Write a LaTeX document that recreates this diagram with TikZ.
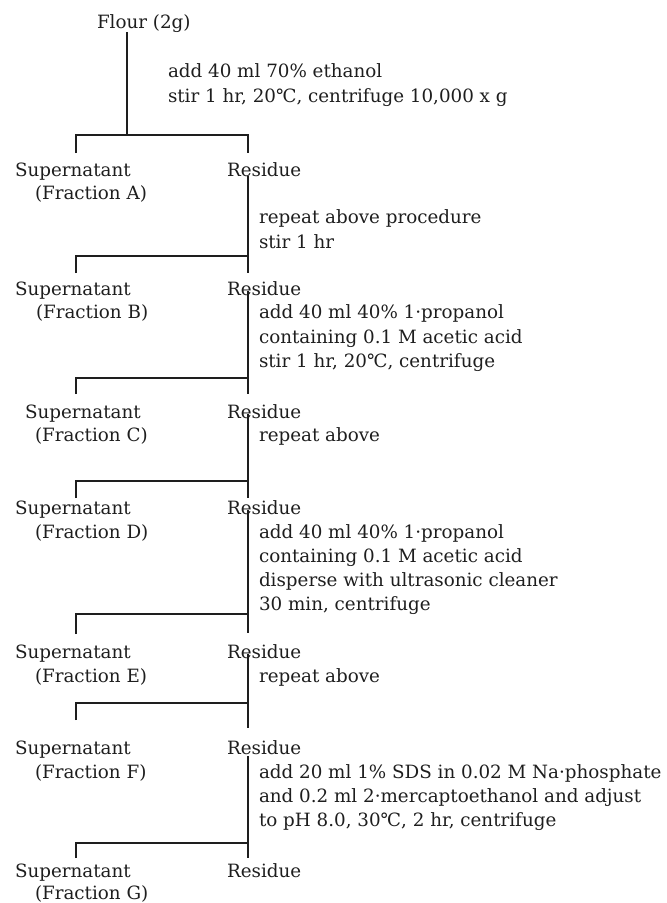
\documentclass[tikz,border=0pt]{standalone}
\usepackage{fontspec}
\newfontfamily\diafont{DejaVu Serif}
\usetikzlibrary{calc}
\definecolor{ink}{RGB}{30,30,30}
\begin{document}
\begin{tikzpicture}[x=1bp,y=-1bp,
  txt/.style={anchor=base west,inner sep=0pt,outer sep=0pt,text=ink,
    font=\diafont\fontsize{18.3bp}{24bp}\selectfont},
  ln/.style={draw=ink,line width=1.1bp}]
\useasboundingbox (0,0) rectangle (667,903);
% ---------- texts ----------
\node[txt] (flour) at (97,28) {Flour (2g)};
\node[txt] (p1a) at (168,77) {add 40 ml 70\% ethanol};
\node[txt] (p1b) at (168,102) {stir 1 hr, 20℃, centrifuge 10,000 x g};
\node[txt] (supA) at (15,176) {Supernatant};
\node[txt] (fracA) at (35,199) {(Fraction A)};
\node[txt] (resA) at (227,176) {Residue};
\node[txt] (p2a) at (259,223) {repeat above procedure};
\node[txt] (p2b) at (259,248) {stir 1 hr};
\node[txt] (supB) at (15,295) {Supernatant};
\node[txt] (fracB) at (36,318) {(Fraction B)};
\node[txt] (resB) at (227,295) {Residue};
\node[txt] (p3a) at (259,318) {add 40 ml 40\% 1·propanol};
\node[txt] (p3b) at (259,343) {containing 0.1 M acetic acid};
\node[txt] (p3c) at (259,367) {stir 1 hr, 20℃, centrifuge};
\node[txt] (supC) at (25,418) {Supernatant};
\node[txt] (fracC) at (35,441) {(Fraction C)};
\node[txt] (resC) at (227,418) {Residue};
\node[txt] (p4a) at (259,441) {repeat above};
\node[txt] (supD) at (15,514) {Supernatant};
\node[txt] (fracD) at (35,538) {(Fraction D)};
\node[txt] (resD) at (227,514) {Residue};
\node[txt] (p5a) at (259,538) {add 40 ml 40\% 1·propanol};
\node[txt] (p5b) at (259,562) {containing 0.1 M acetic acid};
\node[txt] (p5c) at (259,586) {disperse with ultrasonic cleaner};
\node[txt] (p5d) at (259,610) {30 min, centrifuge};
\node[txt] (supE) at (15,658) {Supernatant};
\node[txt] (fracE) at (35,682) {(Fraction E)};
\node[txt] (resE) at (227,658) {Residue};
\node[txt] (p6a) at (259,682) {repeat above};
\node[txt] (supF) at (15,754) {Supernatant};
\node[txt] (fracF) at (35,778) {(Fraction F)};
\node[txt] (resF) at (227,754) {Residue};
\node[txt] (p7a) at (259,778) {add 20 ml 1\% SDS in 0.02 M Na·phosphate};
\node[txt] (p7b) at (259,802) {and 0.2 ml 2·mercaptoethanol and adjust};
\node[txt] (p7c) at (259,826) {to pH 8.0, 30℃, 2 hr, centrifuge};
\node[txt] (supG) at (15,877) {Supernatant};
\node[txt] (fracG) at (35,899) {(Fraction G)};
\node[txt] (resG) at (227,877) {Residue};
% ---------- junction coordinates ----------
\coordinate (j1) at (127,135);
\coordinate (b1l) at (76,135); \coordinate (b1r) at (248,135);
\coordinate (t1l) at (76,153); \coordinate (t1r) at (248,153);
\coordinate (b2l) at (76,256); \coordinate (b2r) at (248,256);
\coordinate (t2l) at (76,273); \coordinate (t2r) at (248,273);
\coordinate (b3l) at (76,378); \coordinate (b3r) at (248,378);
\coordinate (t3l) at (76,394); \coordinate (t3r) at (248,394);
\coordinate (b4l) at (76,481); \coordinate (b4r) at (248,481);
\coordinate (t4l) at (76,498); \coordinate (t4r) at (248,498);
\coordinate (b5l) at (76,614); \coordinate (b5r) at (248,614);
\coordinate (t5l) at (76,634); \coordinate (t5r) at (248,633);
\coordinate (b6l) at (76,703); \coordinate (b6r) at (248,703);
\coordinate (t6l) at (76,720); \coordinate (t6r) at (248,728);
\coordinate (b7l) at (76,843); \coordinate (b7r) at (248,843);
\coordinate (t7l) at (76,858); \coordinate (t7r) at (248,858);
% ---------- connectors ----------
\draw[ln] (flour.south -| j1) -- (j1);
\draw[ln] (t1l) -- (b1l) -- (b1r) -- (t1r);
\draw[ln] (resA.south -| t2r) -- (t2r);
\draw[ln] (t2l) -- (b2l) -- (b2r);
\draw[ln] ($(resB.base -| t3r)+(0,-4)$) -- (t3r);
\draw[ln] (t3l) -- (b3l) -- (b3r);
\draw[ln] ($(resC.base -| t4r)+(0,-4)$) -- (t4r);
\draw[ln] (t4l) -- (b4l) -- (b4r);
\draw[ln] ($(resD.base -| t5r)+(0,-4)$) -- (t5r);
\draw[ln] (t5l) -- (b5l) -- (b5r);
\draw[ln] ($(resE.base -| t6r)+(0,-4)$) -- (t6r);
\draw[ln] (t6l) -- (b6l) -- (b6r);
\draw[ln] ($(resF.south -| t7r)+(0,2)$) -- (t7r);
\draw[ln] (t7l) -- (b7l) -- (b7r);
\end{tikzpicture}
\end{document}
